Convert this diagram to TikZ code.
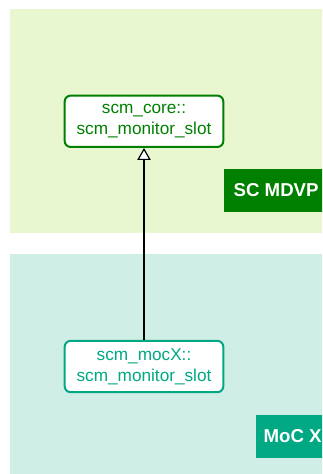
\documentclass[tikz,border=0pt]{standalone}
\usepackage{fontspec}
\setmainfont{Liberation Sans}
\usepackage{tikz}
\usetikzlibrary{arrows.meta, positioning}

\definecolor{mdvpbg}{RGB}{233,247,208}
\definecolor{mdvpdark}{RGB}{0,128,0}
\definecolor{mocbg}{RGB}{207,238,229}
\definecolor{mocdark}{RGB}{0,168,132}

\begin{document}
\begin{tikzpicture}[x=0.75pt, y=-0.75pt,
    classbox/.style={draw, fill=white, rounded corners=4.5pt, line width=1.5pt,
        align=center, minimum width=119pt, minimum height=38.5pt, inner sep=0pt,
        font=\fontsize{12.9}{15.75}\selectfont},
    tagbox/.style={anchor=west, text=white, minimum height=32pt, inner ysep=0pt,
        font=\fontsize{14}{16}\selectfont\bfseries}]
    \useasboundingbox (0,0) rectangle (322,474);
    \clip (0,0) rectangle (322,474);

    % Layer backgrounds
    \fill[mdvpbg] (10,9) rectangle (330,233);
    \fill[mocbg] (10,254) rectangle (330,480);

    % Layer tags
    \node[tagbox, fill=mdvpdark, inner xsep=7pt] (mdvptag) at (224,190.3) {SC MDVP};
    \node[tagbox, fill=mocdark, inner xsep=5.5pt] (moctag) at (256,436.3) {MoC X};

    % Classes
    \node[classbox, draw=mdvpdark, text=mdvpdark] (coreslot) at (144,121.3)
        {scm\_core::\\scm\_monitor\_slot};
    \node[classbox, draw=mocdark, text=mocdark] (mocslot) at (144,366.5)
        {scm\_mocX::\\scm\_monitor\_slot};

    % Inheritance
    \draw[line width=0.9pt, -{Triangle[open, fill=white, length=9pt, width=10pt]}]
        (mocslot) -- (coreslot);
\end{tikzpicture}
\end{document}
